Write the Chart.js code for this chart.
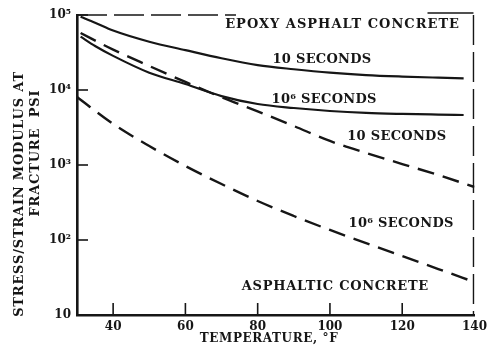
<!DOCTYPE html>
<html>
<head>
<meta charset="utf-8">
<script src="https://cdn.jsdelivr.net/npm/chart.js@4.4.1/dist/chart.umd.min.js"></script>
<style>
  html, body { margin: 0; padding: 0; background: #fff; }
  #wrap { width: 492px; height: 348px; }
</style>
</head>
<body>
<div id="wrap"><canvas id="chart" width="492" height="348"></canvas></div>
<script>
const xTickValues = [40, 60, 80, 100, 120, 140];
const yTickValues = [10, 100, 1000, 10000, 100000];
const yTickLabels = ['10', '10²', '10³', '10⁴', '10⁵'];

// epoxy asphalt concrete (solid)
const epoxyTemps = [31, 35, 40, 50, 60, 70, 80, 90, 100, 110, 120, 130, 137];
const epoxy10s = [95000, 79000, 62000, 44000, 34000, 26500, 21500, 18900, 17000, 15800, 15100, 14600, 14300];
const epoxy1e6s = [51400, 38600, 28500, 17000, 12000, 8300, 6500, 5750, 5250, 4950, 4800, 4700, 4640];

// asphaltic concrete (dashed)
const asphaltTemps10s = [31, 40, 50, 60, 70, 80, 90, 100, 110, 120, 130, 140];
const asphalt10s = [57500, 34500, 20900, 12800, 8000, 5200, 3310, 2090, 1450, 1030, 735, 509];
const asphaltTemps1e6s = [30, 40, 50, 60, 70, 80, 90, 100, 110, 120, 130, 140];
const asphalt1e6s = [8070, 3520, 1790, 970, 558, 331, 209, 136, 91, 61, 41, 27.5];

// curve labels, placed in data coordinates
const notes = [
  { text: 'EPOXY ASPHALT CONCRETE', x: 103.5, y: 73600, spacing: 1 },
  { text: '10 SECONDS', x: 97.8, y: 25100, spacing: 0.3 },
  { text: '10⁶ SECONDS', x: 98.4, y: 7360, spacing: 0.3 },
  { text: '10 SECONDS', x: 118.5, y: 2390, spacing: 0.3 },
  { text: '10⁶ SECONDS', x: 119.7, y: 167, spacing: 0.3 },
  { text: 'ASPHALTIC CONCRETE', x: 101.5, y: 23.8, spacing: 0.7 }
];

const ink = '#161616';
const serif = '"DejaVu Serif", "Liberation Serif", serif';

function pts(xs, ys) { return xs.map((t, i) => ({ x: t, y: ys[i] })); }

function curve(xs, ys, dashed) {
  return {
    data: pts(xs, ys),
    borderColor: ink,
    borderWidth: dashed ? 2.4 : 2.2,
    borderDash: dashed ? [17, 9] : [],
    pointRadius: 0,
    fill: false,
    tension: 0.4,
    cubicInterpolationMode: 'monotone'
  };
}

function seg(ctx, x1, y1, x2, y2) {
  ctx.beginPath(); ctx.moveTo(x1, y1); ctx.lineTo(x2, y2); ctx.stroke();
}

const decor = {
  id: 'decor',
  afterDraw(chart) {
    const { ctx, chartArea: a, scales: { x, y } } = chart;
    ctx.save();
    ctx.strokeStyle = ink;
    ctx.fillStyle = ink;

    // inward tick marks
    ctx.lineWidth = 1.6;
    yTickValues.slice(1).forEach(v => {
      const py = y.getPixelForValue(v);
      seg(ctx, a.left, py, a.left + 11, py);
    });
    xTickValues.slice(0, -1).forEach(v => {
      const px = x.getPixelForValue(v);
      seg(ctx, px, a.bottom, px, a.bottom - 12);
    });

    // broken top / right frame
    ctx.lineWidth = 1.4;
    ctx.setLineDash([30, 7]);
    seg(ctx, a.left, a.top, x.getPixelForValue(74), a.top);
    seg(ctx, a.right - 1, a.top, a.right - 1, a.bottom);
    ctx.setLineDash([]);
    seg(ctx, x.getPixelForValue(127), a.top - 2, a.right - 1, a.top - 2);

    // curve labels
    ctx.font = 'bold 13px ' + serif;
    ctx.textAlign = 'center';
    ctx.textBaseline = 'middle';
    notes.forEach(n => {
      ctx.letterSpacing = (n.spacing || 0) + 'px';
      ctx.fillText(n.text, x.getPixelForValue(n.x), y.getPixelForValue(n.y));
    });
    ctx.letterSpacing = '0px';

    // axis titles
    ctx.font = 'bold 12px ' + serif;
    ctx.letterSpacing = '0.6px';
    ctx.fillText('TEMPERATURE, °F', 269, 339);

    ctx.font = 'bold 13px ' + serif;
    ctx.letterSpacing = '0.8px';
    ctx.translate(20, 194);
    ctx.rotate(-Math.PI / 2);
    ctx.fillText('STRESS/STRAIN MODULUS AT', 0, 0);
    ctx.rotate(Math.PI / 2);
    ctx.translate(16, -41);
    ctx.rotate(-Math.PI / 2);
    ctx.fillText('FRACTURE  PSI', 0, 0);
    ctx.restore();
  }
};

new Chart(document.getElementById('chart'), {
  type: 'line',
  data: {
    datasets: [
      curve(epoxyTemps, epoxy10s, false),
      curve(epoxyTemps, epoxy1e6s, false),
      curve(asphaltTemps10s, asphalt10s, true),
      curve(asphaltTemps1e6s, asphalt1e6s, true)
    ]
  },
  options: {
    responsive: false,
    animation: false,
    devicePixelRatio: 1,
    layout: { padding: { left: 0, right: 10, top: 15, bottom: 0 } },
    plugins: { legend: { display: false }, tooltip: { enabled: false } },
    scales: {
      x: {
        type: 'linear',
        min: 30,
        max: 140,
        afterFit: s => { s.height = 33; },
        afterBuildTicks: s => { s.ticks = xTickValues.map(v => ({ value: v })); },
        grid: { display: false, drawTicks: false },
        border: { display: true, color: ink, width: 2.6 },
        ticks: {
          color: ink,
          padding: 5,
          maxRotation: 0,
          font: { family: serif, size: 12, weight: 'bold' },
          callback: v => String(v)
        }
      },
      y: {
        type: 'logarithmic',
        min: 10,
        max: 100000,
        afterFit: s => { s.width = 77; },
        afterBuildTicks: s => { s.ticks = yTickValues.map(v => ({ value: v })); },
        grid: { display: false, drawTicks: false },
        border: { display: true, color: ink, width: 2.6 },
        ticks: {
          color: ink,
          padding: 6,
          font: { family: serif, size: 12, weight: 'bold' },
          callback: (v) => yTickLabels[yTickValues.indexOf(v)]
        }
      }
    }
  },
  plugins: [decor]
});
</script>
</body>
</html>
